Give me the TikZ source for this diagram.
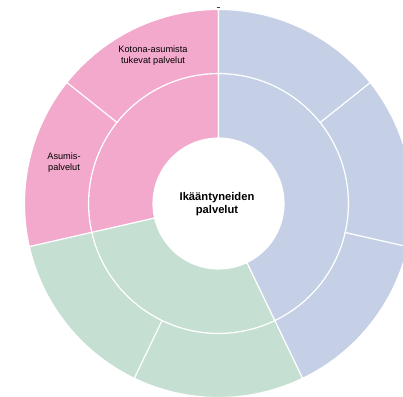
\documentclass[tikz,border=0pt]{standalone}
\usepackage{fontspec}
\setmainfont{Liberation Sans}
\definecolor{pinkc}{HTML}{F2A9CC}
\definecolor{bluec}{HTML}{C5D0E6}
\definecolor{greenc}{HTML}{C5E0D2}
\begin{document}
\begin{tikzpicture}[x=1pt,y=1pt,
  sector/.style={draw=white, line width=1.1pt, line join=round},
  lbl/.style={align=center, inner sep=0pt, font=\fontsize{9.2}{11.5}\selectfont},
  title/.style={align=center, inner sep=0pt, font=\fontsize{11.2}{13.7}\selectfont\bfseries}]
\useasboundingbox (0,0) rectangle (403,396);
\clip (0,0) rectangle (403,396);
\fill[white] (0,0) rectangle (403,396);
\begin{scope}[shift={(218.5,192.5)}]
  \def\ra{65.5}\def\rb{130}\def\rc{194}
  % inner ring
  \foreach \a/\b/\c in {90/192.857/pinkc, 192.857/295.714/greenc, 295.714/450/bluec}{
    \filldraw[sector, fill=\c] (\a:\ra) arc[start angle=\a, end angle=\b, radius=\ra]
      -- (\b:\rb) arc[start angle=\b, end angle=\a, radius=\rb] -- cycle;
  }
  % outer ring
  \foreach \a/\b/\c in {90/141.429/pinkc, 141.429/192.857/pinkc,
                        192.857/244.286/greenc, 244.286/295.714/greenc,
                        295.714/347.143/bluec, 347.143/398.571/bluec, 398.571/450/bluec}{
    \filldraw[sector, fill=\c] (\a:\rb) arc[start angle=\a, end angle=\b, radius=\rb]
      -- (\b:\rc) arc[start angle=\b, end angle=\a, radius=\rc] -- cycle;
  }
  \fill[white] (0,0) circle[radius=\ra];
\end{scope}
\node[title] (centre) at (217,192) {Ikääntyneiden\\palvelut};
\node[lbl] (kotona) at (153,340.2) {Kotona-asumista\\tukevat palvelut};
\node[lbl] (asumis) at (64,233.5) {Asumis-\\palvelut};
\coordinate (dashA) at (216.5,388.7);
\coordinate (dashB) at (220.3,388.7);
\draw[line width=1pt, black!75] (dashA) -- (dashB);
\end{tikzpicture}
\end{document}
